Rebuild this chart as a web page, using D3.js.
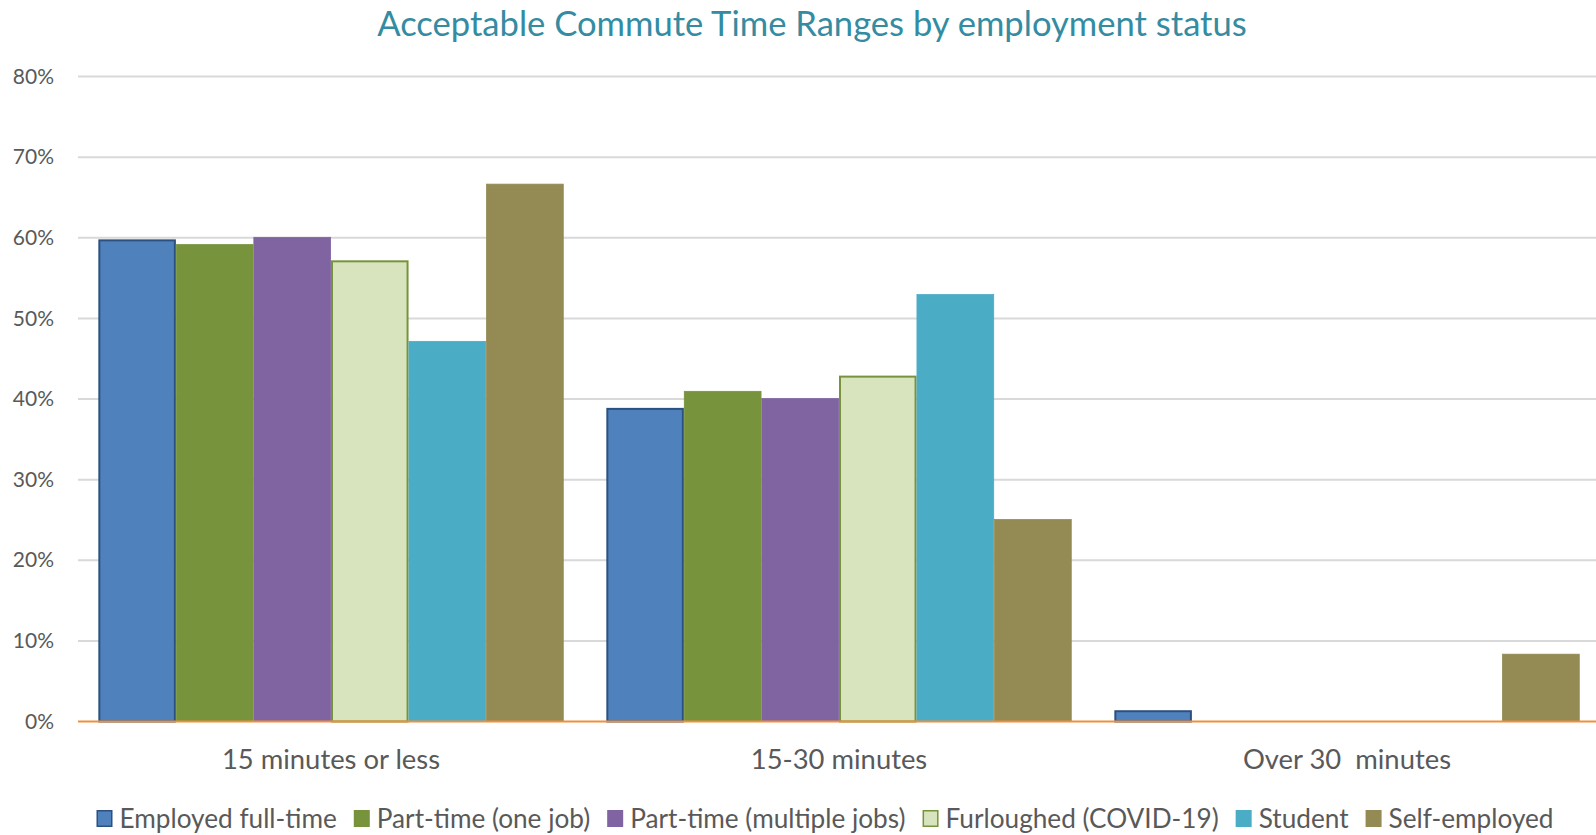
<!DOCTYPE html>
<html>
<head>
<meta charset="utf-8">
<script src="https://cdn.jsdelivr.net/npm/d3@7/dist/d3.min.js"></script>
<style>
  html, body { margin: 0; padding: 0; background: #ffffff; }
  svg { display: block; }
  text { font-family: Lato, "Open Sans", sans-serif; white-space: pre; }
</style>
</head>
<body>
<svg id="chart" width="1596" height="835"></svg>
<script>
const title = "Acceptable Commute Time Ranges by employment status";
const categories = ["15 minutes or less", "15-30 minutes", "Over 30  minutes"];
const seriesNames = ["Employed full-time", "Part-time (one job)", "Part-time (multiple jobs)", "Furloughed (COVID-19)", "Student", "Self-employed"];
const employedFullTime = [59.8, 38.9, 1.4];
const partTimeOneJob = [59.2, 41.0, 0];
const partTimeMultipleJobs = [60.1, 40.1, 0];
const furloughed = [57.2, 42.9, 0];
const student = [47.2, 53.0, 0];
const selfEmployed = [66.7, 25.1, 8.4];
const yTicks = [0, 10, 20, 30, 40, 50, 60, 70, 80];

const seriesValues = [employedFullTime, partTimeOneJob, partTimeMultipleJobs, furloughed, student, selfEmployed];
const fills = ["#4F81BD", "#77933C", "#8064A2", "#D7E4BD", "#4BACC6", "#948A54"];
const strokes = ["#2C5080", "#77933C", "#8064A2", "#77933C", "#4BACC6", "#948A54"];
const strokeW = [2, 0.8, 0.8, 2, 0.8, 0.8];

const svg = d3.select("#chart");
const W = 1596, H = 835;
const plotLeft = 77, plotRight = 1601, plotTop = 76.5, plotBottom = 721.5;

const x0 = d3.scaleBand().domain(categories).range([plotLeft, plotRight]).paddingInner(0.084).paddingOuter(0.042);
const x1 = d3.scaleBand().domain(seriesNames).range([0, x0.bandwidth()]).padding(0);
const y = d3.scaleLinear().domain([0, 80]).range([plotBottom, plotTop]);

// Title
svg.append("text")
  .attr("x", 812).attr("y", 36)
  .attr("text-anchor", "middle")
  .attr("fill", "#348CA2")
  .style("font-size", "34.6px")
  .text(title);

// Gridlines
svg.append("g").selectAll("line").data(yTicks.filter(d => d > 0)).join("line")
  .attr("x1", 78).attr("x2", W)
  .attr("y1", d => y(d)).attr("y2", d => y(d))
  .attr("stroke", "#D9D9D9").attr("stroke-width", 2);

// Y axis labels
const yAxis = d3.axisLeft(y).tickValues(yTicks).tickFormat(d => d + "%").tickSize(0).tickPadding(0);
const ya = svg.append("g").attr("transform", "translate(54,0)").call(yAxis);
ya.select(".domain").remove();
ya.selectAll("text").attr("fill", "#595959").style("font-size", "21px").style("font-family", "Lato, sans-serif");

// Bars
const groups = svg.append("g").selectAll("g").data(seriesNames).join("g");
groups.each(function(name, si) {
  d3.select(this).selectAll("rect").data(categories).join("rect")
    .attr("x", (c) => x0(c) + x1(name) + strokeW[si] / 2)
    .attr("width", x1.bandwidth() - strokeW[si])
    .attr("y", (c, ci) => y(seriesValues[si][ci]) + strokeW[si] / 2)
    .attr("height", (c, ci) => Math.max(0, plotBottom - y(seriesValues[si][ci]) - strokeW[si] / 2))
    .attr("fill", fills[si])
    .attr("stroke", (c, ci) => seriesValues[si][ci] > 0 ? strokes[si] : "none")
    .attr("stroke-width", strokeW[si]);
});

// Zero axis line (orange)
svg.append("line")
  .attr("x1", 78).attr("x2", W)
  .attr("y1", y(0)).attr("y2", y(0))
  .attr("stroke", "#F0903F").attr("stroke-width", 2);

// Category labels
const xAxis = d3.axisBottom(x0).tickSize(0).tickPadding(0);
const xa = svg.append("g").attr("transform", "translate(0,747)").call(xAxis);
xa.select(".domain").remove();
xa.selectAll("text").attr("y", 22).attr("dy", 0)
  .attr("fill", "#595959").style("font-size", "27.4px").style("font-family", "Lato, sans-serif")
  .style("white-space", "pre");

// Legend
const legend = svg.append("g");
let lx = 96.5;
seriesNames.forEach((name, i) => {
  const g = legend.append("g").attr("transform", `translate(${lx},0)`);
  g.append("rect").attr("x", 0.75).attr("y", 810.75).attr("width", 14.5).attr("height", 15.5)
    .attr("fill", fills[i]).attr("stroke", strokes[i]).attr("stroke-width", 1.5);
  const t = g.append("text").attr("x", 23).attr("y", 827.5)
    .attr("fill", "#595959").style("font-size", "26.2px").text(name);
  lx += 23 + t.node().getComputedTextLength() + 17;
});
</script>
</body>
</html>
